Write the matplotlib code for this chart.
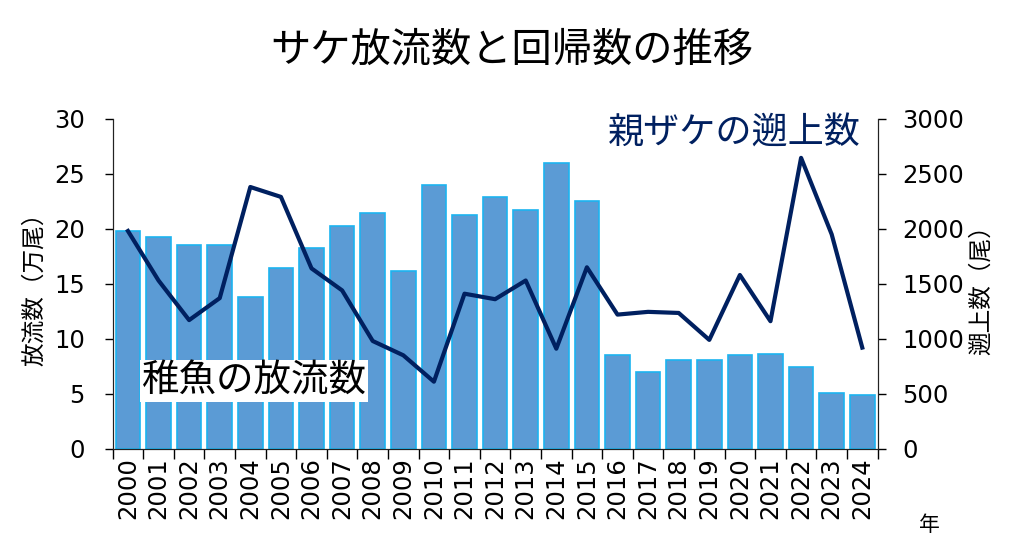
import numpy as np
import matplotlib.pyplot as plt

plt.rcParams['font.family'] = ['Noto Sans CJK JP', 'DejaVu Sans']

years = [str(y) for y in range(2000, 2025)]
# 稚魚の放流数 (万尾)
release = [19.8, 19.3, 18.5, 18.5, 13.8, 16.4, 18.3, 20.3, 21.4, 16.2,
           24.0, 21.3, 22.9, 21.7, 26.0, 22.5, 8.5, 7.0, 8.1, 8.1,
           8.5, 8.6, 7.4, 5.1, 4.9]
# 親ザケの遡上数 (尾)
returns = [1980, 1530, 1170, 1370, 2380, 2290, 1640, 1440, 980, 850,
           610, 1410, 1360, 1530, 910, 1650, 1220, 1245, 1235, 990,
           1580, 1160, 2645, 1950, 920]

x = np.arange(len(years))

fig = plt.figure(figsize=(10.24, 5.5), dpi=100)
ax = fig.add_axes([0.110, 0.184, 0.747, 0.600])
ax2 = ax.twinx()

ax.bar(x, release, width=0.8, color='#5B9BD5', edgecolor='#1CB4F0', linewidth=1.2, zorder=2)
ax2.plot(x, returns, color='#002060', linewidth=3.0, zorder=3)

ax.set_xlim(-0.5, len(years) - 0.5)
ax.set_ylim(0, 30)
ax2.set_ylim(0, 3000)
ax.set_yticks(range(0, 31, 5))
ax2.set_yticks(range(0, 3001, 500))

# ticks at bar boundaries, labels at bar centres
ax.set_xticks(np.arange(-0.5, len(years), 1))
ax.set_xticklabels([])
ax.set_xticks(x, minor=True)
ax.set_xticklabels(years, minor=True, rotation=90, fontsize=17.5, family='DejaVu Sans')
ax.tick_params(axis='x', which='major', length=7, width=1, direction='out')
ax.tick_params(axis='x', which='minor', length=0, pad=6)
ax.tick_params(axis='y', labelsize=17.5, length=6, width=1, pad=14)
ax2.tick_params(axis='y', labelsize=17.5, length=6, width=1, pad=12)
for lab in ax.get_yticklabels() + ax2.get_yticklabels():
    lab.set_family('DejaVu Sans')

for a in (ax, ax2):
    a.spines['top'].set_visible(False)
    for s in ('left', 'right', 'bottom'):
        a.spines[s].set_color('#222222')

ax.set_ylabel('放流数（万尾）', fontsize=17, labelpad=6)
ax2.set_ylabel('遡上数（尾）', fontsize=17, labelpad=4)

fig.text(0.5, 0.91, 'サケ放流数と回帰数の推移', ha='center', va='center', fontsize=29)
fig.text(0.908, 0.045, '年', ha='center', va='center', fontsize=15)

ax2.text(0.978, 0.955, '親ザケの遡上数', transform=ax2.transAxes, ha='right', va='center',
         fontsize=26, color='#002060')
ax2.text(0.038, 0.205, '稚魚の放流数', transform=ax2.transAxes, ha='left', va='center',
         fontsize=27, color='black',
         bbox=dict(facecolor='white', edgecolor='none', pad=1))

fig.savefig('out.png', dpi=100)
